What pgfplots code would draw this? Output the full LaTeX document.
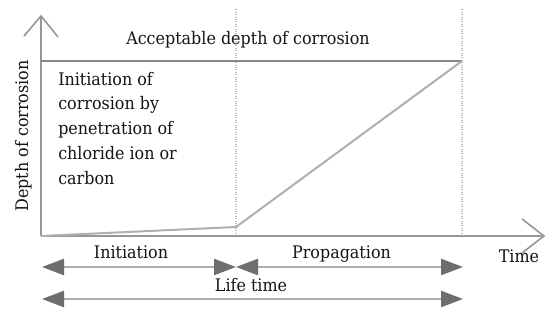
\documentclass[border=0pt]{standalone}
\usepackage{pgfplots}
\pgfplotsset{compat=1.18}
\usepackage{fontspec}
\setmainfont[FakeStretch=0.92]{DejaVu Serif}
\usetikzlibrary{arrows.meta}
\definecolor{axisgray}{RGB}{150,150,150}
\definecolor{limgray}{RGB}{135,135,135}
\definecolor{curvegray}{RGB}{175,175,175}
\definecolor{shaftgray}{RGB}{175,175,175}
\definecolor{headgray}{RGB}{110,110,110}
\definecolor{dotgray}{RGB}{190,190,190}
\definecolor{txtgray}{RGB}{20,20,20}
\tikzset{
  lbl/.style={font=\fontsize{13}{15}\selectfont, text=txtgray, inner sep=0pt},
  dbl/.style={line width=1.8pt, color=shaftgray,
    arrows={Triangle[length=16.5pt,width=12pt,color=headgray]-Triangle[length=16.5pt,width=12pt,color=headgray]}}
}
\begin{document}
\begin{tikzpicture}
\begin{axis}[scale only axis, width=412.5pt, height=237pt,
  xmin=0, xmax=550, ymin=0, ymax=316, axis lines=none, clip=false]
\path (axis cs:0,0) rectangle (axis cs:550,316);
% dotted verticals
\addplot[dotgray, line width=0.8pt, densely dotted] coordinates {(236,80) (236,308)};
\addplot[dotgray, line width=0.8pt, densely dotted] coordinates {(462,80) (462,308)};
% axes
\addplot[axisgray, line width=1.5pt] coordinates {(41,80) (41,300)};
\addplot[axisgray, line width=1.2pt] coordinates {(24,280) (41,300) (58,279)};
\addplot[axisgray, line width=1.5pt] coordinates {(41,80) (544,80)};
\addplot[axisgray, line width=1.2pt] coordinates {(522,97) (544,80) (522,63)};
% acceptable depth
\addplot[limgray, line width=1.6pt] coordinates {(41,255) (462,255)};
% corrosion curve
\addplot[curvegray, line width=1.5pt] coordinates {(41,80) (236,89) (462,255)};
% phase arrows
\addplot[dbl] coordinates {(42,49) (236,49)};
\addplot[dbl] coordinates {(236,49) (463,49)};
\addplot[dbl] coordinates {(42,17) (463,17)};
% texts
\node[lbl, anchor=base] at (axis cs:248,271.5) {Acceptable depth of corrosion};
\node[lbl, anchor=base west] at (axis cs:58,230) {Initiation of};
\node[lbl, anchor=base west] at (axis cs:58,206) {corrosion by};
\node[lbl, anchor=base west] at (axis cs:58,181) {penetration of};
\node[lbl, anchor=base west] at (axis cs:58,156) {chloride ion or};
\node[lbl, anchor=base west] at (axis cs:58,131) {carbon};
\node[lbl, anchor=base, rotate=90] at (axis cs:28,180) {Depth of corrosion};
\node[lbl, anchor=base] at (axis cs:131,57) {Initiation};
\node[lbl, anchor=base] at (axis cs:341.5,57) {Propagation};
\node[lbl, anchor=base] at (axis cs:251,24) {Life time};
\node[lbl, anchor=base] at (axis cs:519,53) {Time};
\end{axis}
\end{tikzpicture}
\end{document}
